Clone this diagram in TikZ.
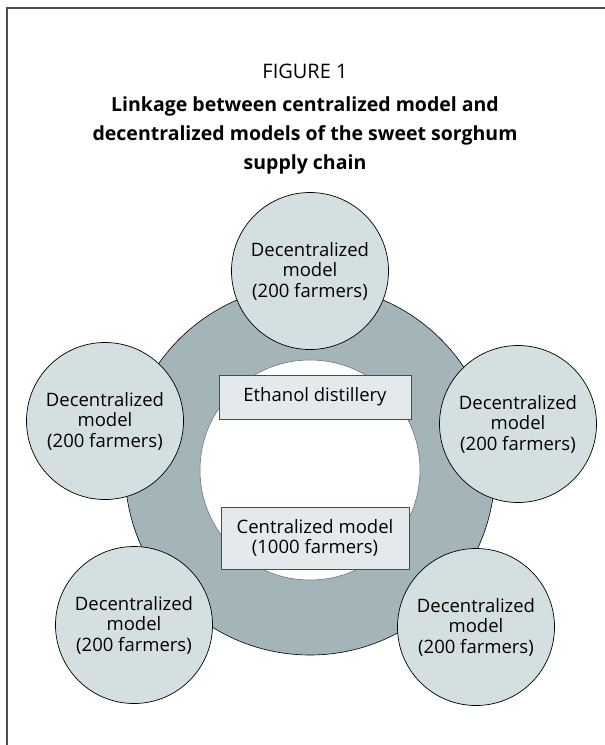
\documentclass[tikz,border=0pt]{standalone}
\usepackage{fontspec}
\setmainfont{Open Sans}
\begin{document}
\begin{tikzpicture}[x=1pt,y=-1pt,font=\fontsize{18.5}{20.5}\selectfont]
  % Define fill colors
  \definecolor{ringgray}{RGB}{163,181,184}
  \definecolor{circlegray}{RGB}{212,223,225}
  \definecolor{boxgray}{RGB}{228,234,236}
  \definecolor{framegray}{RGB}{77,77,77}
  \tikzset{
    farm/.style={circle, draw=black, line width=0.7pt, fill=circlegray,
      minimum size=157pt, inner sep=0pt, align=center},
    centrebox/.style={draw=black!70, fill=boxgray, line width=0.8pt,
      align=center, inner sep=0pt}
  }

  \useasboundingbox (0,0) rectangle (605,745);

  % Frame, only top and left sides
  \coordinate (corner) at (7,8);
  \coordinate (topend) at (605,8);
  \coordinate (leftend) at (7,745);
  \draw[framegray, line width=2pt] (topend) -- (corner) -- (leftend);

  % Title
  \node (figno) at (305,71) {\fontsize{20}{29}\selectfont FIGURE 1};
  \node[align=center, font=\bfseries\fontsize{19.5}{29}\selectfont] (caption)
  at (305,135) {Linkage between centralized model and\\decentralized models
    of the sweet sorghum\\supply chain};

  % Gray ring with the white hub inside
  \node[circle, draw=black, line width=0.6pt, fill=ringgray, minimum
  size=370pt, inner sep=0pt] (ring) at (310,470) {};
  \node[circle, draw=black!60, line width=0.5pt, fill=white, minimum
  size=220pt, inner sep=0pt] (hub) at (ring.center) {};

  % Boxes inside the hub
  \node[centrebox, minimum width=192pt, minimum height=44pt] (distillery)
  at (315,397) {Ethanol distillery};
  \node[centrebox, minimum width=188pt, minimum height=62pt] (central)
  at (315,538) {Centralized model\\(1000 farmers)};

  % Five decentralized models round the ring
  \foreach \name/\x/\y in {dectop/310/271, decleft/105/421, decright/518/424,
    declowleft/134/625, declowright/476/627} {
    \node[farm] (\name) at (\x,\y) {Decentralized\\model\\(200 farmers)};
  }
\end{tikzpicture}
\end{document}
